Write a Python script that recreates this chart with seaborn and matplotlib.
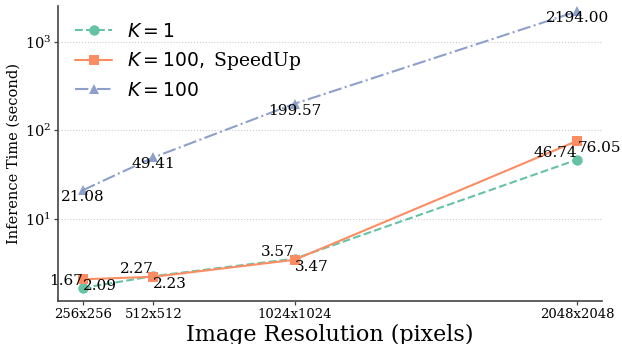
import matplotlib
matplotlib.use("Agg")
import matplotlib.pyplot as plt
import seaborn as sns
import pandas as pd

resolutions = [256, 512, 1024, 2048]
tick_labels = ["256x256", "512x512", "1024x1024", "2048x2048"]
k1 = [1.67, 2.27, 3.57, 46.74]
k100_speedup = [2.09, 2.23, 3.47, 76.05]
k100 = [21.08, 49.41, 199.57, 2194.00]

sns.set_theme(style="ticks")
plt.rcParams["font.family"] = ["DejaVu Serif"]
plt.rcParams["mathtext.fontset"] = "dejavusans"
plt.rcParams["text.color"] = "black"
plt.rcParams["axes.labelcolor"] = "black"
plt.rcParams["xtick.color"] = "black"
plt.rcParams["ytick.color"] = "black"

pal = sns.color_palette("Set2")
c_k1, c_sp, c_k100 = pal[0], pal[1], pal[2]

fig = plt.figure(figsize=(6.22, 3.44), dpi=100)
ax = fig.add_axes([58 / 622, 43 / 344, 544 / 622, 295 / 344])

df1 = pd.DataFrame({"res": resolutions, "t": k1})
df2 = pd.DataFrame({"res": resolutions, "t": k100_speedup})
df3 = pd.DataFrame({"res": resolutions, "t": k100})

sns.lineplot(data=df1, x="res", y="t", ax=ax, color=c_k1, marker="o", markersize=7.5,
             linestyle="--", linewidth=1.5, markeredgewidth=0, label=r"$K=1$")
sns.lineplot(data=df2, x="res", y="t", ax=ax, color=c_sp, marker="s", markersize=7.5,
             linestyle="-", linewidth=1.5, markeredgewidth=0, label=r"$K=100,\ $SpeedUp")
sns.lineplot(data=df3, x="res", y="t", ax=ax, color=c_k100, marker="^", markersize=7.5,
             linestyle="-.", linewidth=1.5, markeredgewidth=0, label=r"$K=100$")

ax.set_yscale("log")
ax.set_xlim(166.4, 2137.6)
ax.set_ylim(1.19, 2520)
ax.set_xticks(resolutions)
ax.set_xticklabels(tick_labels, fontsize=9.5)
ax.tick_params(axis="both", which="major", length=3, width=0.9, pad=2, color="#444444")
ax.tick_params(axis="y", labelsize=10.5, which="major")
ax.tick_params(axis="y", which="minor", left=False)
ax.yaxis.grid(True, which="major", linestyle=":", color="#cccccc", linewidth=0.8)
ax.xaxis.grid(False)

for x, y in zip(resolutions, k1):
    ax.text(x, y, f"{y:.2f}", ha="right", va="bottom", fontsize=11, color="black")
for x, y in zip(resolutions, k100_speedup):
    ax.text(x, y, f"{y:.2f}", ha="left", va="top", fontsize=11, color="black")
for x, y in zip(resolutions, k100):
    ax.text(x, y, f"{y:.2f}", ha="center", va="top", fontsize=11, color="black")

ax.set_xlabel("Image Resolution (pixels)", fontsize=16, labelpad=2)
ax.set_ylabel("Inference Time (second)", fontsize=10.5, labelpad=3)

for s in ["left", "bottom"]:
    ax.spines[s].set_color("#444444")
    ax.spines[s].set_linewidth(1.2)
sns.despine(ax=ax)

ax.legend(loc="upper left", frameon=False, fontsize=13.5, labelcolor="black")

fig.savefig("out.png", dpi=100)
